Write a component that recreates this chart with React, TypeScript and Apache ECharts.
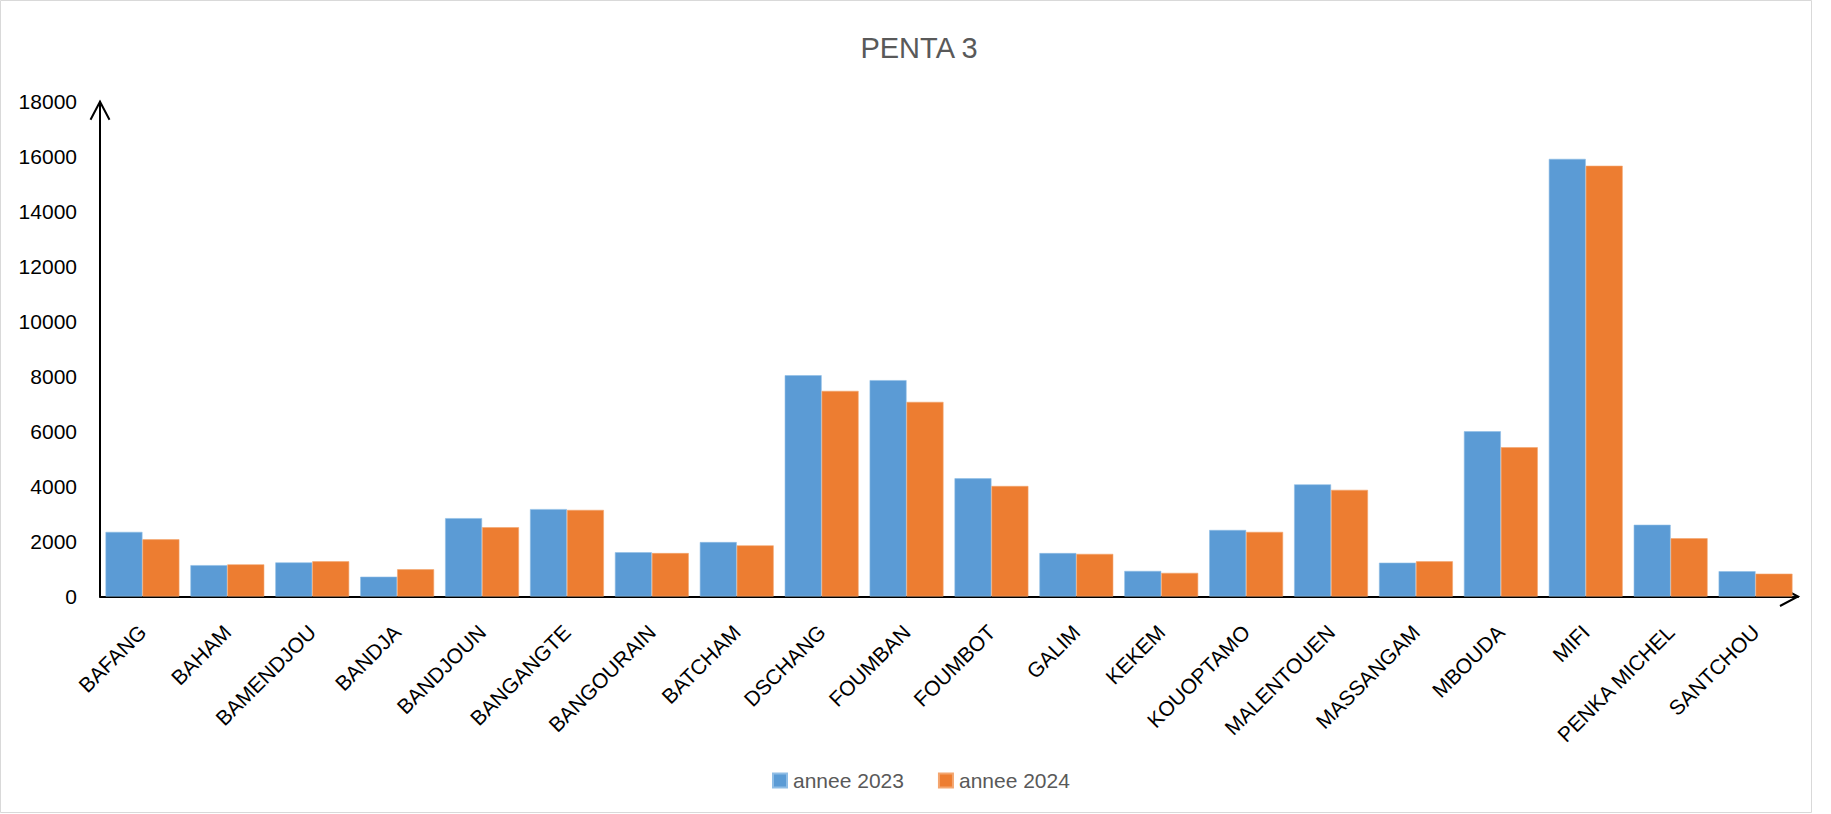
import React, { useEffect, useRef } from "react";
import * as echarts from "echarts";

const categories = [
  "BAFANG", "BAHAM", "BAMENDJOU", "BANDJA", "BANDJOUN", "BANGANGTE", "BANGOURAIN",
  "BATCHAM", "DSCHANG", "FOUMBAN", "FOUMBOT", "GALIM", "KEKEM", "KOUOPTAMO",
  "MALENTOUEN", "MASSANGAM", "MBOUDA", "MIFI", "PENKA MICHEL", "SANTCHOU",
];
const annee2023 = [2350, 1140, 1240, 720, 2850, 3180, 1610, 1980, 8050, 7870, 4300, 1580, 930, 2420, 4080, 1230, 6010, 15920, 2610, 920];
const annee2024 = [2080, 1170, 1280, 990, 2520, 3150, 1580, 1860, 7480, 7080, 4020, 1550, 860, 2350, 3880, 1280, 5430, 15670, 2120, 830];
const seriesNames = ["annee 2023", "annee 2024"];
const yMin = 0;
const yMax = 18000;
const yInterval = 2000;

const FONT = "'Liberation Sans', Arial, sans-serif";

export default function App() {
  const ref = useRef<HTMLDivElement>(null);
  useEffect(() => {
    if (!ref.current) return;
    const chart = echarts.init(ref.current, undefined, { renderer: "svg" });
    const gridLeft = 100;
    const gridRight = 33;
    const gridTop = 101.7;
    const gridBottom = 217.5;
    chart.setOption({
      animation: false,
      backgroundColor: "#ffffff",
      title: {
        text: "PENTA 3",
        left: 914,
        top: 28,
        textAlign: "center",
        textStyle: { fontFamily: FONT, fontSize: 29, fontWeight: "normal", color: "#595959" },
      },
      legend: {
        left: 767,
        top: 765,
        itemWidth: 14,
        itemHeight: 14,
        itemGap: 34,
        icon: "rect",
        textStyle: { fontFamily: FONT, fontSize: 21, color: "#595959", padding: [0, 0, 0, 1] },
        data: seriesNames,
      },
      grid: { left: gridLeft, right: gridRight, top: gridTop, bottom: gridBottom, containLabel: false },
      xAxis: {
        type: "category",
        data: categories,
        axisLine: { show: true, lineStyle: { color: "#000", width: 2 } },
        axisTick: { show: false },
        axisLabel: {
          interval: 0,
          rotate: 45,
          margin: 32,
          fontFamily: FONT,
          fontSize: 21,
          color: "#000",
        },
      },
      yAxis: {
        type: "value",
        min: yMin,
        max: yMax,
        interval: yInterval,
        axisLine: { show: true, lineStyle: { color: "#000", width: 2 } },
        axisTick: { show: false },
        splitLine: { show: false },
        axisLabel: {
          margin: 23,
          fontFamily: FONT,
          fontSize: 21,
          color: "#000",
          formatter: (v: number) => String(v),
        },
      },
      series: [
        {
          name: seriesNames[0],
          type: "bar",
          data: annee2023,
          barGap: "0%",
          barCategoryGap: "13%",
          itemStyle: { color: "#5B9BD5", borderColor: "#8FBDE6", borderWidth: 0.6 },
        },
        {
          name: seriesNames[1],
          type: "bar",
          data: annee2024,
          barGap: "0%",
          barCategoryGap: "13%",
          itemStyle: { color: "#ED7D31", borderColor: "#F4A66F", borderWidth: 0.6 },
        },
      ],
    });

    const top = chart.convertToPixel({ gridIndex: 0 }, [0, yMax]) as number[];
    const origin = chart.convertToPixel({ gridIndex: 0 }, [0, yMin]) as number[];
    const yAxisX = gridLeft;
    const yTipY = top[1];
    const xTipX = 1831 - gridRight;
    const xAxisY = origin[1];
    chart.setOption({
      graphic: [
        {
          type: "rect",
          shape: { x: 0.5, y: 0.5, width: 1811, height: 812 },
          style: { fill: "none", stroke: "#d9d9d9", lineWidth: 1 },
          silent: true,
        },
        {
          type: "polyline",
          shape: { points: [[yAxisX - 9.5, yTipY + 18], [yAxisX, yTipY], [yAxisX + 9.5, yTipY + 18]] },
          style: { fill: "none", stroke: "#000", lineWidth: 2 },
          silent: true,
        },
        {
          type: "polyline",
          shape: { points: [[xTipX - 18, xAxisY - 9.5], [xTipX, xAxisY], [xTipX - 18, xAxisY + 9.5]] },
          style: { fill: "none", stroke: "#000", lineWidth: 2 },
          silent: true,
        },
      ],
    });
    return () => chart.dispose();
  }, []);
  return (
    <div
      ref={ref}
      style={{ position: "absolute", left: 0, top: 0, width: 1831, height: 814 }}
    />
  );
}
